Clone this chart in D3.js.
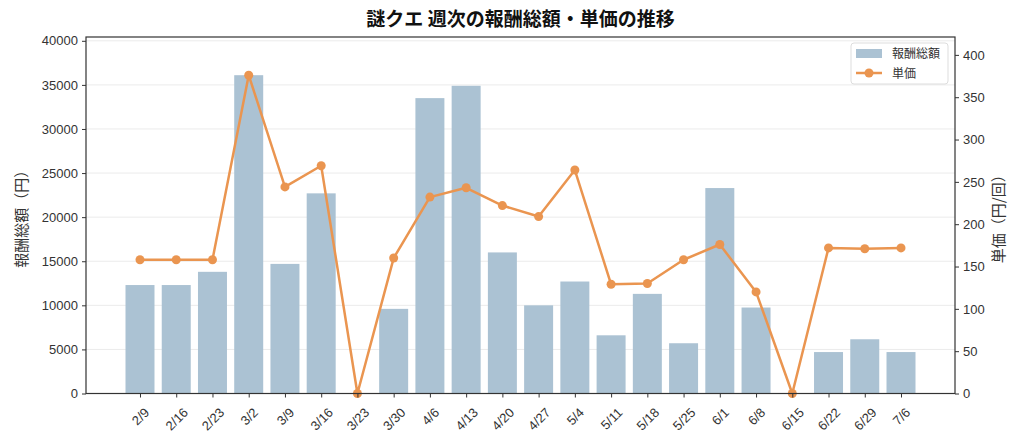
<!DOCTYPE html>
<html>
<head>
<meta charset="utf-8">
<script src="https://cdn.jsdelivr.net/npm/d3@7"></script>
<style>
  body { margin: 0; background: #fff; }
  svg { font-family: "Noto Sans CJK JP", "Noto Sans", sans-serif; }
</style>
</head>
<body>
<div id="chart"></div>
<script>
var weeks = ['2/9', '2/16', '2/23', '3/2', '3/9', '3/16', '3/23', '3/30', '4/6', '4/13', '4/20',
  '4/27', '5/4', '5/11', '5/18', '5/25', '6/1', '6/8', '6/15', '6/22', '6/29', '7/6'];
var totals = [12300, 12300, 13800, 36100, 14700, 22700, 0, 9600, 33500, 34900, 16000,
  10000, 12700, 6600, 11300, 5700, 23300, 9750, 0, 4700, 6150, 4700];
var prices = [158, 158, 158, 376, 244, 269, 0, 160, 232, 243, 222,
  209, 264, 129, 130, 158, 176, 120, 0, 172, 171, 172];
var leftTicks = [0, 5000, 10000, 15000, 20000, 25000, 30000, 35000, 40000];
var rightTicks = [0, 50, 100, 150, 200, 250, 300, 350, 400];

var width = 1024
  , height = 447
  , m = {top: 37, right: 69, bottom: 53.5, left: 86}
  , iw = width - m.left - m.right
  , ih = height - m.top - m.bottom
  , barColor = '#abc2d3'
  , lineColor = '#ea9550'
  , textColor = '#333'
  , tickFont = 13;

var n = weeks.length;
var x = d3.scaleLinear()
  .domain([-0.4 - 0.05 * (n - 0.2), n - 0.6 + 0.05 * (n - 0.2)])
  .range([0, iw]);
var yL = d3.scaleLinear().domain([0, d3.max(totals) * 1.12]).range([ih, 0]);
var yR = d3.scaleLinear().domain([0, d3.max(prices) * 1.12]).range([ih, 0]);
var bw = x(0.8) - x(0);

var svg = d3.select('#chart').append('svg')
  .attr('width', width)
  .attr('height', height);

svg.append('text')
  .attr('x', m.left + iw / 2)
  .attr('y', 26)
  .attr('text-anchor', 'middle')
  .attr('font-size', 19)
  .attr('font-weight', 'bold')
  .attr('fill', '#111')
  .text('謎クエ 週次の報酬総額・単価の推移');

var g = svg.append('g').attr('transform', 'translate(' + m.left + ',' + m.top + ')');

// grid
g.append('g').selectAll('line')
  .data(leftTicks)
  .join('line')
  .attr('x1', 0).attr('x2', iw)
  .attr('y1', function(d) { return yL(d); })
  .attr('y2', function(d) { return yL(d); })
  .attr('stroke', '#ebebeb')
  .attr('stroke-width', 1);

// bars
g.append('g').selectAll('rect')
  .data(totals)
  .join('rect')
  .attr('x', function(d, i) { return x(i) - bw / 2; })
  .attr('y', function(d) { return yL(d); })
  .attr('width', bw)
  .attr('height', function(d) { return ih - yL(d); })
  .attr('fill', barColor);

// line
var line = d3.line()
  .x(function(d, i) { return x(i); })
  .y(function(d) { return yR(d); });

g.append('path')
  .datum(prices)
  .attr('d', line)
  .attr('fill', 'none')
  .attr('stroke', lineColor)
  .attr('stroke-width', 2.5)
  .attr('stroke-linejoin', 'round');

g.append('g').selectAll('circle')
  .data(prices)
  .join('circle')
  .attr('cx', function(d, i) { return x(i); })
  .attr('cy', function(d) { return yR(d); })
  .attr('r', 4.5)
  .attr('fill', lineColor);

// frame
g.append('rect')
  .attr('width', iw).attr('height', ih)
  .attr('fill', 'none')
  .attr('stroke', '#333')
  .attr('stroke-width', 1.2);

// axes
function style(ax) {
  ax.select('.domain').remove();
  ax.selectAll('line').attr('stroke', '#333');
  ax.selectAll('text').attr('fill', textColor).attr('font-size', tickFont);
}

var xAxis = g.append('g')
  .attr('transform', 'translate(0,' + ih + ')')
  .call(d3.axisBottom(x).tickValues(d3.range(n)).tickFormat(function(i) { return weeks[i]; })
    .tickSize(4).tickPadding(0))
  .call(style);
// rotated labels centred on the tick, box top just under the tick
xAxis.selectAll('text')
  .attr('text-anchor', 'middle')
  .attr('y', 0)
  .attr('dy', '0.35em')
  .attr('transform', function() {
    var len = this.getComputedTextLength();
    var box = (len + tickFont) / Math.SQRT2;
    return 'translate(0,' + (12 + box / 2) + ') rotate(-45)';
  });

g.append('g')
  .call(d3.axisLeft(yL).tickValues(leftTicks).tickFormat(d3.format('d')).tickSize(4).tickPadding(4))
  .call(style);

g.append('g')
  .attr('transform', 'translate(' + iw + ',0)')
  .call(d3.axisRight(yR).tickValues(rightTicks).tickFormat(d3.format('d')).tickSize(4).tickPadding(4))
  .call(style);

svg.append('text')
  .attr('transform', 'translate(27,' + (m.top + ih / 2) + ') rotate(-90)')
  .attr('text-anchor', 'middle')
  .attr('font-size', 15)
  .attr('fill', textColor)
  .text('報酬総額（円）');

svg.append('text')
  .attr('transform', 'translate(1004,' + (m.top + ih / 2) + ') rotate(-90)')
  .attr('text-anchor', 'middle')
  .attr('font-size', 15)
  .attr('fill', textColor)
  .text('単価（円/回）');

// legend
var lg = svg.append('g').attr('transform', 'translate(851,43)');
lg.append('rect')
  .attr('width', 97).attr('height', 41).attr('rx', 3)
  .attr('fill', '#fff').attr('fill-opacity', 0.85)
  .attr('stroke', '#ddd');
lg.append('rect')
  .attr('x', 5).attr('y', 6).attr('width', 26).attr('height', 9)
  .attr('fill', barColor);
lg.append('line')
  .attr('x1', 5).attr('x2', 31).attr('y1', 30).attr('y2', 30)
  .attr('stroke', lineColor).attr('stroke-width', 2.5);
lg.append('circle')
  .attr('cx', 18).attr('cy', 30).attr('r', 4.5).attr('fill', lineColor);
lg.selectAll('text.lbl')
  .data(['報酬総額', '単価'])
  .join('text')
  .attr('class', 'lbl')
  .attr('x', 41)
  .attr('y', function(d, i) { return 15 + i * 20; })
  .attr('font-size', 12)
  .attr('fill', textColor)
  .text(function(d) { return d; });
</script>
</body>
</html>
